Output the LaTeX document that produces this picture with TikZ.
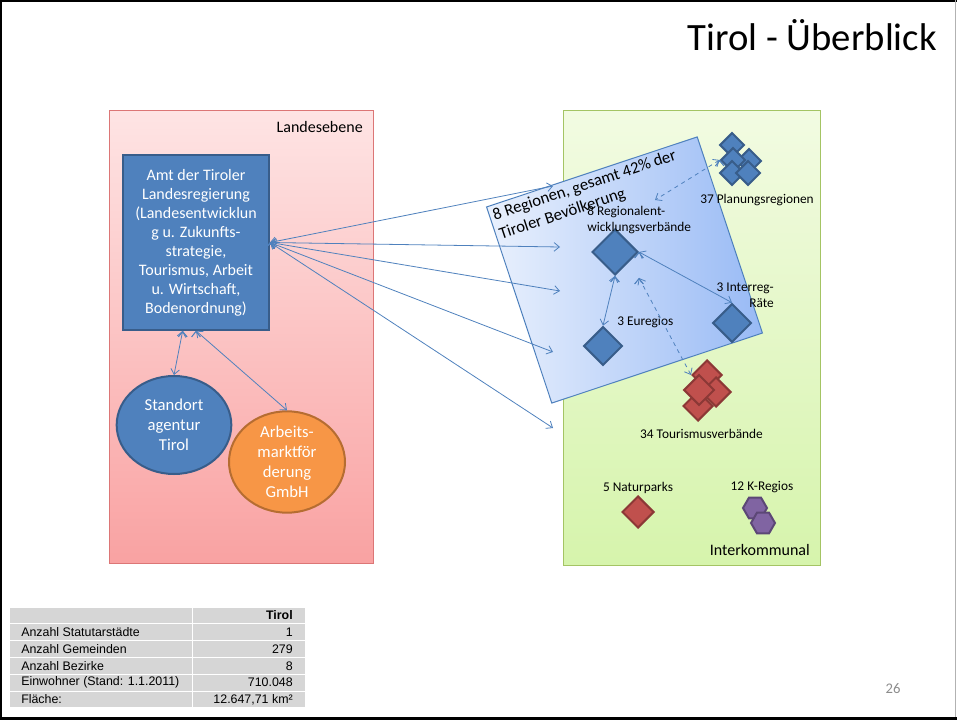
\documentclass[tikz,border=0pt]{standalone}
\usepackage{fontspec}
\setmainfont{Carlito}
\newfontfamily\tabfont{Liberation Sans}
\usetikzlibrary{shapes.geometric,arrows.meta,positioning}

\definecolor{amtblue}{HTML}{4F81BD}
\definecolor{amtline}{HTML}{385D8A}
\definecolor{pinkT}{HTML}{FEE4E4}
\definecolor{pinkB}{HTML}{F9A2A2}
\definecolor{pinkline}{HTML}{DC7676}
\definecolor{greenT}{HTML}{F2FBE2}
\definecolor{greenB}{HTML}{D6F4AC}
\definecolor{greenline}{HTML}{A4C464}
\definecolor{regL}{HTML}{EAF1FD}
\definecolor{regR}{HTML}{98BAF5}
\definecolor{orangefill}{HTML}{F79646}
\definecolor{orangeline}{HTML}{B66D31}
\definecolor{redfill}{HTML}{C0504D}
\definecolor{redline}{HTML}{8C3836}
\definecolor{purplefill}{HTML}{8064A2}
\definecolor{purpleline}{HTML}{5C4776}
\definecolor{tabgrey}{HTML}{D6D6D6}

\begin{document}
\begin{tikzpicture}[x=0.75pt,y=-0.75pt,>={Straight Barb[length=4pt,width=6.5pt]}]
        \tikzstyle{amtbox}=[rectangle,draw=amtline,line width=1.5pt,fill=amtblue,text=white,align=center,
                            minimum width=109.5pt,minimum height=131pt,inner sep=0pt,font=\fontsize{12}{14.25}\selectfont]
        \tikzstyle{agency}=[ellipse,line width=1.5pt,text=white,align=center,inner sep=0pt,
                            font=\fontsize{12.5}{15}\selectfont]
        \tikzstyle{bluedia}=[diamond,draw=amtline,line width=1.5pt,fill=amtblue,inner sep=0pt]
        \tikzstyle{reddia}=[diamond,draw=redline,line width=1.5pt,fill=redfill,inner sep=0pt]
        \tikzstyle{hexa}=[regular polygon,regular polygon sides=6,draw=purpleline,line width=1.5pt,
                          fill=purplefill,inner sep=0pt,minimum size=18pt]
        \tikzstyle{smalllbl}=[font=\fontsize{10}{12}\selectfont,inner sep=0pt]
        \tikzstyle{boxlbl}=[font=\fontsize{12}{14}\selectfont,inner sep=0pt]
        \tikzstyle{conn}=[draw=amtblue,line width=0.6pt,<->]
        \tikzstyle{dconn}=[draw=amtblue,line width=0.6pt,<->,dashed]
        \tikzstyle{cell}=[fill=tabgrey,draw=white,line width=0.75pt]

        \useasboundingbox (0,0) rectangle (957,720);

        % slide frame
        \draw[line width=1.6pt] (0,1) -- (957,1);
        \draw[line width=1.6pt] (1,0) -- (1,720);
        \draw[line width=2.4pt] (0,718.5) -- (957,718.5);
        \draw[gray!60,line width=0.75pt] (955.5,0) -- (955.5,717);

        \node[anchor=base east,inner sep=0pt,font=\fontsize{29}{34}\selectfont] (title) at (937,51) {Tirol - Überblick};

        % the two levels
        \shadedraw[top color=pinkT,bottom color=pinkB,draw=pinkline,line width=0.75pt] (109,111) rectangle (373,563);
        \shadedraw[top color=greenT,bottom color=greenB,draw=greenline,line width=0.75pt] (563,111) rectangle (820,565);
        \node[boxlbl,anchor=east] (landes) at (363,127) {Landesebene};
        \node[boxlbl,anchor=east] (interk) at (810,550) {Interkommunal};

        % Landesebene
        \node [amtbox] (amt) at (196,242.5) {Amt der Tiroler\\Landesregierung\\(Landesentwicklun\\g u. Zukunfts-\\strategie,\\Tourismus, Arbeit\\u. Wirtschaft,\\Bodenordnung)};
        \node [agency,draw=amtline,fill=amtblue,minimum width=86pt,minimum height=73.5pt] (standort) at (174,425) {Standort\\agentur\\Tirol};
        \node [agency,draw=orangeline,fill=orangefill,minimum width=87pt,minimum height=75pt] (amf) at (287,462) {Arbeits-\\marktför\\derung\\GmbH};

        \path[conn] ([xshift=-10pt]amt.south) edge (standort.north);
        \path[conn] (amt.south) edge (amf.north);

        % 8 Regionen
        \node[draw=amtblue,line width=0.75pt,left color=regL,right color=regR,rotate=18.4,
              minimum width=166.5pt,minimum height=155pt] (regbox) at (624.5,270) {};
        \node[rotate=18.4,anchor=north west,align=left,inner sep=3pt,font=\fontsize{12.5}{15}\selectfont] (regtxt)
              at (regbox.north west) {8 Regionen, gesamt 42\% der\\Tiroler Bevölkerung};

        % Interkommunal
        \node [bluedia,minimum size=34.5pt] (rev) at (615,252) {};
        \node [bluedia,minimum size=29pt] (eur) at (603,346) {};
        \node [bluedia,minimum size=29pt] (interreg) at (732,323) {};
        \node [bluedia,minimum size=18.5pt] (plan1) at (732,145) {};
        \node [bluedia,minimum size=18.5pt] (plan3) at (749,161) {};
        \node [bluedia,minimum size=18.5pt] (plan2) at (733,160) {};
        \node [bluedia,minimum size=18.5pt] (plan4) at (732,173) {};
        \node [bluedia,minimum size=18.5pt] (plan5) at (748,173) {};
        \node [reddia,minimum size=22.5pt] (tourC) at (698,406) {};
        \node [reddia,minimum size=22.5pt] (tourA) at (707,375) {};
        \node [reddia,minimum size=22.5pt] (tourB) at (716,392) {};
        \node [reddia,minimum size=23pt] (tourD) at (699,390) {};
        \node [reddia,minimum size=24pt] (natur) at (638,512) {};
        \node [hexa] (kreg1) at (755,508) {};
        \node [hexa] (kreg2) at (763,523) {};

        \node [smalllbl,anchor=west,align=left] (revlbl) at (587,220) {8 Regionalent-\\wicklungsverbände};
        \node [smalllbl,anchor=west] (eurlbl) at (617,322) {3 Euregios};
        \node [smalllbl,anchor=east,align=right] (interlbl) at (774,295) {3 Interreg-\\Räte};
        \node [smalllbl] (planlbl) at (757,200) {37 Planungsregionen};
        \node [smalllbl] (tourlbl) at (701.5,434) {34 Tourismusverbände};
        \node [smalllbl,above=1pt of natur] (naturlbl) {5 Naturparks};
        \node [smalllbl] (kreglbl) at (762,487) {12 K-Regios};

        \coordinate (r1) at (553,186);
        \coordinate (r2) at (560,247);
        \coordinate (r3) at (560,291);
        \coordinate (r4) at (553,352);
        \coordinate (r5) at (553,428);
        \coordinate (pl) at (655,200);
        \coordinate (tu) at (639,278);

        \foreach \r in {r1,r2,r3,r4,r5}
          \path[conn] (amt.east) edge (\r);
        \path[conn] (rev.east) edge (interreg.north);
        \path[conn] (rev.south) edge (eur.north);
        \path[dconn] (plan2.west) edge (pl);
        \path[dconn] (tu) edge (tourA.west);

        % table
        \begin{scope}[font=\tabfont\fontsize{9.3}{11}\selectfont]
          \path[cell] (9,607) rectangle (192.5,623.8);
          \path[cell] (192.5,607) rectangle (305,623.8);
          \node[anchor=east,inner sep=0pt,font=\tabfont\bfseries\fontsize{9.3}{11}\selectfont] (val0) at (293,615.4) {Tirol};
          \foreach \lab/\val [count=\i] in {Anzahl Statutarstädte/1, Anzahl Gemeinden/279, Anzahl Bezirke/8,
                                           Einwohner (Stand: 1.1.2011)/710.048, Fläche:/{12.647,71 km²}} {
            \path[cell] (9,607+16.8*\i) rectangle (192.5,623.8+16.8*\i);
            \path[cell] (192.5,607+16.8*\i) rectangle (305,623.8+16.8*\i);
            \node[anchor=west,inner sep=0pt] (lab\i) at (21,615.4+16.8*\i) {\lab};
            \node[anchor=east,inner sep=0pt] (val\i) at (293,615.4+16.8*\i) {\val};
          }
        \end{scope}

        \node[text=black!45,font=\fontsize{11}{13}\selectfont] (page) at (893,689) {26};
\end{tikzpicture}
\end{document}
